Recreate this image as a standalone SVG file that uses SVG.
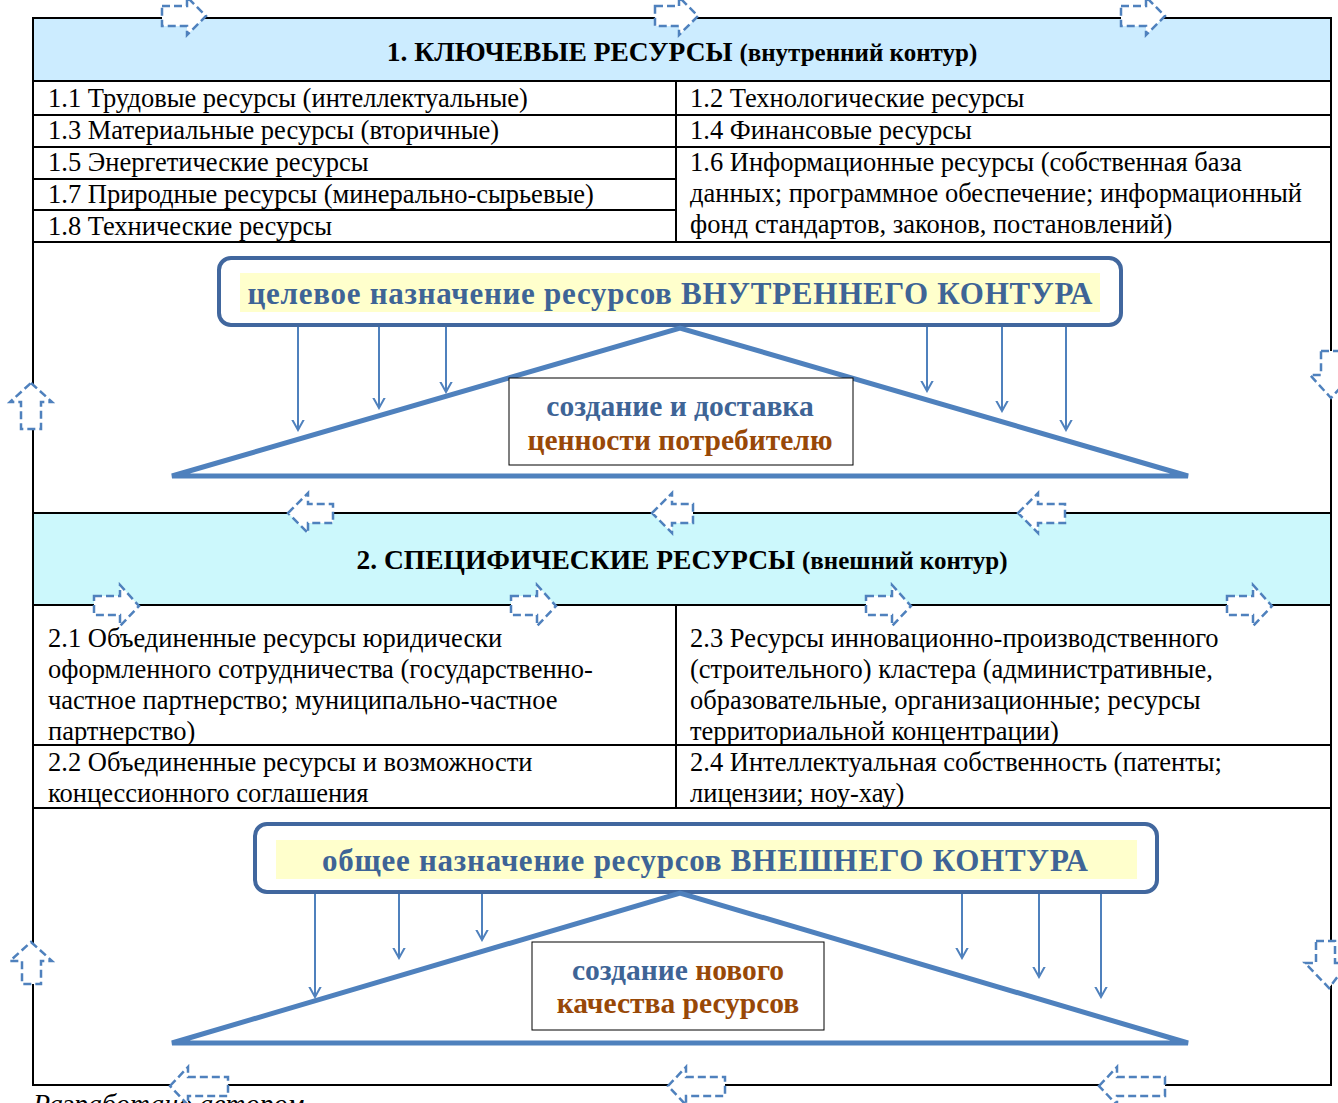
<svg xmlns="http://www.w3.org/2000/svg" width="1338" height="1103" viewBox="0 0 1338 1103">
<style>
.t{font-family:"Liberation Serif","Times New Roman",serif;font-size:26.5px;fill:#000}
.h{font-family:"Liberation Serif","Times New Roman",serif;font-weight:bold;fill:#000}
.lbl{font-family:"Liberation Serif","Times New Roman",serif;font-weight:bold;font-size:31px;fill:#3E6496}
.bx{font-family:"Liberation Serif","Times New Roman",serif;font-weight:bold;font-size:29.5px}
.blue{fill:#3E6496}
.brown{fill:#984807}
.ln{stroke:#000;stroke-width:2;fill:none}
.rr{fill:#fff;stroke:#41679E;stroke-width:4}
.tri{fill:none;stroke:#4F81BD;stroke-width:5;stroke-linejoin:miter}
.ar{stroke:#4F81BD;stroke-width:2;fill:none;marker-end:url(#v)}
.da{fill:#fff;stroke:#4F81BD;stroke-width:2.5;stroke-dasharray:8 4}
</style>
<defs>
<marker id="v" markerWidth="12" markerHeight="24" refX="10" refY="12" orient="auto" markerUnits="userSpaceOnUse" viewBox="0 0 12 24">
<path d="M-8,2 L10,12 L-8,22" fill="none" stroke="#4F81BD" stroke-width="2"/>
</marker>
</defs>
<rect width="1338" height="1103" fill="#fff"/>

<g id="section1">
<rect x="33" y="18" width="1298" height="63" fill="#CCECFF"/>
<text x="682" y="61" text-anchor="middle"><tspan class="h" font-size="27.5">1. КЛЮЧЕВЫЕ РЕСУРСЫ </tspan><tspan class="h" font-size="25">(внутренний контур)</tspan></text>
<g id="table1">
<text class="t" x="48" y="107">1.1 Трудовые ресурсы (интеллектуальные)</text>
<text class="t" x="690" y="107">1.2 Технологические ресурсы</text>
<text class="t" x="48" y="139">1.3 Материальные ресурсы (вторичные)</text>
<text class="t" x="690" y="139">1.4 Финансовые ресурсы</text>
<text class="t" x="48" y="171">1.5 Энергетические ресурсы</text>
<text class="t" x="690" y="171">1.6 Информационные ресурсы (собственная база</text>
<text class="t" x="690" y="202">данных; программное обеспечение; информационный</text>
<text class="t" x="690" y="233">фонд стандартов, законов, постановлений)</text>
<text class="t" x="48" y="203">1.7 Природные ресурсы (минерально-сырьевые)</text>
<text class="t" x="48" y="235">1.8 Технические ресурсы</text>
</g>
</g>

<g id="section2">
<rect x="33" y="513" width="1298" height="92" fill="#CCF8FC"/>
<text x="682" y="569" text-anchor="middle"><tspan class="h" font-size="27.5">2. СПЕЦИФИЧЕСКИЕ РЕСУРСЫ </tspan><tspan class="h" font-size="25">(внешний контур)</tspan></text>
<g id="table2">
<text class="t" x="48" y="647">2.1 Объединенные ресурсы юридически</text>
<text class="t" x="48" y="678">оформленного сотрудничества (государственно-</text>
<text class="t" x="48" y="709">частное партнерство; муниципально-частное</text>
<text class="t" x="48" y="740">партнерство)</text>
<text class="t" x="48" y="771">2.2 Объединенные ресурсы и возможности</text>
<text class="t" x="48" y="802">концессионного соглашения</text>
<text class="t" x="690" y="647">2.3 Ресурсы инновационно-производственного</text>
<text class="t" x="690" y="678">(строительного) кластера (административные,</text>
<text class="t" x="690" y="709">образовательные, организационные; ресурсы</text>
<text class="t" x="690" y="740">территориальной концентрации)</text>
<text class="t" x="690" y="771">2.4 Интеллектуальная собственность (патенты;</text>
<text class="t" x="690" y="802">лицензии; ноу-хау)</text>
</g>
</g>

<g id="grid">
<rect x="33" y="18" width="1298" height="1067" class="ln"/>
<path class="ln" d="M33,81 H1331 M33,242 H1331 M33,513 H1331 M33,605 H1331 M33,745 H1331 M33,808 H1331 M676,81 V242 M676,605 V808 M33,115 H1331 M33,147 H1331 M33,179 H676 M33,210 H676"/>
</g>

<g id="connectors">
<path class="ar" d="M298,327 V430"/>
<path class="ar" d="M379,327 V408"/>
<path class="ar" d="M446,327 V392"/>
<path class="ar" d="M927,327 V391"/>
<path class="ar" d="M1002,327 V411"/>
<path class="ar" d="M1066,327 V430"/>
<path class="ar" d="M315,893 V997"/>
<path class="ar" d="M399,893 V958"/>
<path class="ar" d="M482,893 V940"/>
<path class="ar" d="M962,893 V958"/>
<path class="ar" d="M1039,893 V977"/>
<path class="ar" d="M1101,893 V997"/>
</g>

<g id="goal1">
<rect class="rr" x="219" y="258" width="902" height="67" rx="12"/>
<rect x="240" y="273" width="860" height="39" fill="#FFFFCC"/>
<text class="lbl" x="670" y="304" text-anchor="middle" textLength="845">целевое назначение ресурсов ВНУТРЕННЕГО КОНТУРА</text>
</g>
<g id="triangle1">
<path class="tri" d="M172,476 L680,328 L1188,476 Z"/>
</g>
<g id="value1">
<rect x="509" y="378" width="344" height="87" fill="#fff" stroke="#000" stroke-width="1"/>
<text class="bx blue" x="680" y="416" text-anchor="middle">создание и доставка</text>
<text class="bx brown" x="680" y="450" text-anchor="middle">ценности потребителю</text>
</g>

<g id="goal2">
<rect class="rr" x="255" y="824" width="902" height="68" rx="12"/>
<rect x="276" y="840" width="861" height="39" fill="#FFFFCC"/>
<text class="lbl" x="705" y="871" text-anchor="middle" textLength="766">общее назначение ресурсов ВНЕШНЕГО КОНТУРА</text>
</g>
<g id="triangle2">
<path class="tri" d="M172,1043 L680,893 L1188,1043 Z"/>
</g>
<g id="value2">
<rect x="532" y="942" width="292" height="88" fill="#fff" stroke="#000" stroke-width="1"/>
<text class="bx" x="678" y="980" text-anchor="middle"><tspan class="blue">создание </tspan><tspan class="brown">нового</tspan></text>
<text class="bx brown" x="678" y="1013" text-anchor="middle">качества ресурсов</text>
</g>

<text x="33" y="1113" font-family="Liberation Serif, serif" font-style="italic" font-size="28">Разработано автором.</text>

<g id="dashed-arrows">
<path class="da" d="M162,6 H187 V-3 L206,16 L187,35 V26 H162 Z"/>
<path class="da" d="M655,6 H679 V-3 L698,16 L679,35 V26 H655 Z"/>
<path class="da" d="M1121,6 H1146 V-3 L1165,16 L1146,35 V26 H1121 Z"/>
<path class="da" d="M94,596 H120 V585 L139,606 L120,626 V615 H94 Z"/>
<path class="da" d="M511,596 H537 V585 L556,606 L537,626 V615 H511 Z"/>
<path class="da" d="M866,596 H892 V585 L911,606 L892,626 V615 H866 Z"/>
<path class="da" d="M1227,596 H1253 V585 L1272,606 L1253,626 V615 H1227 Z"/>
<path class="da" d="M288,513 L308,493 V504 H333 V523 H308 V533 Z"/>
<path class="da" d="M652,513 L672,493 V504 H693 V523 H672 V533 Z"/>
<path class="da" d="M1018,513 L1038,493 V504 H1065 V523 H1038 V533 Z"/>
<path class="da" d="M170,1086 L188,1067 V1077 H228 V1096 H188 V1105 Z"/>
<path class="da" d="M668,1086 L686,1067 V1077 H725 V1096 H686 V1105 Z"/>
<path class="da" d="M1099,1086 L1117,1067 V1077 H1165 V1096 H1117 V1105 Z"/>
<path class="da" d="M31,383 L52,402 H41 V429 H21 V402 H10 Z"/>
<path class="da" d="M31,942 L52,961 H41 V984 H22 V961 H10 Z"/>
<path class="da" d="M1321,351 H1342 V375 H1352 L1331,398 L1310,375 H1321 Z"/>
<path class="da" d="M1316,941 H1335 V963 H1348 L1329,988 L1305,963 H1316 Z"/>
</g>
</svg>
